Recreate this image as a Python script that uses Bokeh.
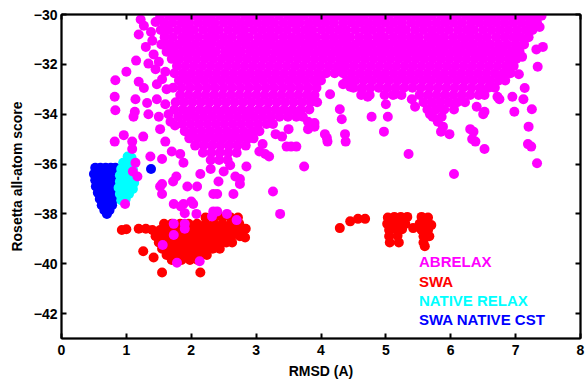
from bokeh.plotting import figure
from bokeh.models import Range1d, LinearAxis, FixedTicker, Label
from bokeh.embed import file_html
from bokeh.resources import INLINE

# ---------------- data ----------------
x_ticks = [0, 1, 2, 3, 4, 5, 6, 7, 8]
x_tick_labels = ["0", "1", "2", "3", "4", "5", "6", "7", "8"]
y_ticks = [-42, -40, -38, -36, -34, -32, -30]
y_tick_labels = ["\u221242", "\u221240", "\u221238", "\u221236", "\u221234", "\u221232", "\u221230"]

series_names = ["ABRELAX", "SWA", "NATIVE RELAX", "SWA NATIVE CST"]
series_colors = ["#FF00FF", "#FF0000", "#00FFFF", "#0000FF"]

# ABRELAX: dense band, one row of points per score level
abrelax_row_y = [-30.05, -30.33, -30.62, -30.91, -31.2, -31.49, -31.78, -32.07, -32.36, -32.65,
                 -32.94, -33.23, -33.52, -33.81, -34.1, -34.39, -34.68, -34.97, -35.26, -35.55, -35.84]
abrelax_row_x = [
    [1.52, 1.66, 1.78, 1.91, 2.05, 2.17, 2.30, 2.44, 2.57, 2.69, 2.83, 2.96, 3.09, 3.21, 3.35, 3.49, 3.61, 3.74, 3.88, 4.01, 4.13, 4.27, 4.41, 4.53, 4.66, 4.80, 4.93, 5.05, 5.19, 5.32, 5.46, 5.58, 5.71, 5.85, 5.98, 6.10, 6.24, 6.38, 6.50, 6.63, 6.77, 6.90, 7.02, 7.15, 7.28, 7.40],
    [1.58, 1.71, 1.85, 1.97, 2.11, 2.24, 2.36, 2.50, 2.63, 2.76, 2.89, 3.02, 3.15, 3.28, 3.42, 3.55, 3.67, 3.81, 3.94, 4.07, 4.20, 4.34, 4.47, 4.60, 4.73, 4.86, 4.99, 5.12, 5.25, 5.39, 5.52, 5.64, 5.78, 5.91, 6.04, 6.17, 6.31, 6.44, 6.57, 6.70, 6.83, 6.96, 7.09, 7.22, 7.33],
    [1.53, 1.65, 1.79, 1.92, 2.04, 2.18, 2.31, 2.43, 2.57, 2.70, 2.82, 2.96, 3.09, 3.22, 3.35, 3.48, 3.62, 3.75, 3.87, 4.01, 4.14, 4.27, 4.39, 4.53, 4.67, 4.79, 4.92, 5.06, 5.19, 5.31, 5.45, 5.58, 5.71, 5.84, 5.97, 6.11, 6.24, 6.36, 6.50, 6.63, 6.76, 6.89, 7.02, 7.15, 7.26],
    [1.59, 1.72, 1.86, 1.98, 2.11, 2.25, 2.37, 2.50, 2.63, 2.77, 2.89, 3.03, 3.16, 3.28, 3.42, 3.55, 3.68, 3.81, 3.93, 4.07, 4.20, 4.33, 4.45, 4.59, 4.72, 4.86, 4.98, 5.12, 5.25, 5.38, 5.51, 5.65, 5.77, 5.90, 6.04, 6.17, 6.30, 6.43, 6.56, 6.70, 6.83, 6.96, 7.08, 7.20],
    [1.54, 1.67, 1.80, 1.93, 2.06, 2.19, 2.31, 2.45, 2.58, 2.71, 2.84, 2.97, 3.10, 3.23, 3.36, 3.49, 3.62, 3.75, 3.88, 4.01, 4.14, 4.27, 4.40, 4.53, 4.66, 4.79, 4.92, 5.05, 5.18, 5.31, 5.44, 5.57, 5.70, 5.83, 5.96, 6.09, 6.22, 6.35, 6.48, 6.61, 6.74, 6.87, 7.00, 7.13],
    [1.62, 1.74, 1.87, 2.00, 2.13, 2.26, 2.38, 2.52, 2.65, 2.77, 2.91, 3.04, 3.16, 3.30, 3.43, 3.56, 3.69, 3.82, 3.95, 4.08, 4.21, 4.34, 4.47, 4.60, 4.73, 4.86, 4.99, 5.12, 5.25, 5.38, 5.51, 5.64, 5.77, 5.90, 6.03, 6.16, 6.29, 6.42, 6.55, 6.68, 6.81, 6.94, 7.06],
    [1.70, 1.82, 1.95, 2.08, 2.21, 2.34, 2.47, 2.60, 2.73, 2.86, 2.99, 3.12, 3.25, 3.38, 3.51, 3.64, 3.77, 3.90, 4.03, 4.16, 4.29, 4.42, 4.55, 4.68, 4.81, 4.94, 5.07, 5.20, 5.33, 5.46, 5.59, 5.72, 5.85, 5.98, 6.11, 6.24, 6.37, 6.50, 6.63, 6.76, 6.89, 7.01],
    [1.78, 1.91, 2.04, 2.17, 2.30, 2.43, 2.56, 2.69, 2.82, 2.95, 3.08, 3.21, 3.34, 3.47, 3.60, 3.73, 3.86, 3.99, 4.12, 4.25, 4.38, 4.51, 4.64, 4.77, 4.90, 5.03, 5.16, 5.29, 5.42, 5.55, 5.68, 5.81, 5.94, 6.07, 6.20, 6.33, 6.46, 6.59, 6.72, 6.85, 6.97],
    [1.74, 1.87, 2.00, 2.13, 2.26, 2.39, 2.52, 2.65, 2.78, 2.91, 3.04, 3.17, 3.30, 3.43, 3.56, 3.69, 3.82, 3.95, 4.08, 4.21, 4.34, 4.47, 4.60, 4.73, 4.86, 4.99, 5.12, 5.25, 5.38, 5.51, 5.64, 5.77, 5.90, 6.03, 6.16, 6.29, 6.42, 6.55, 6.68, 6.81, 6.92],
    [1.81, 1.94, 2.07, 2.20, 2.33, 2.46, 2.59, 2.72, 2.85, 2.98, 3.11, 3.24, 3.37, 3.50, 3.63, 3.76, 3.89, 4.00, 4.40, 4.53, 4.66, 4.79, 4.92, 5.05, 5.18, 5.31, 5.44, 5.57, 5.70, 5.83, 5.96, 6.09, 6.22, 6.35, 6.48, 6.61, 6.74, 6.84],
    [1.72, 1.85, 1.98, 2.11, 2.24, 2.37, 2.50, 2.63, 2.76, 2.89, 3.02, 3.15, 3.28, 3.41, 3.54, 3.67, 3.80, 3.93, 4.50, 4.63, 4.76, 4.89, 5.02, 5.15, 5.28, 5.41, 5.54, 5.67, 5.80, 5.93, 6.06, 6.19, 6.32, 6.45, 6.58, 6.68],
    [1.83, 1.96, 2.09, 2.22, 2.35, 2.48, 2.61, 2.74, 2.87, 3.00, 3.13, 3.26, 3.39, 3.52, 3.65, 3.78, 3.90, 4.62, 4.75, 4.98, 5.11, 5.24, 5.52, 5.65, 5.78, 5.91, 6.04, 6.17, 6.30, 6.43, 6.52],
    [1.76, 1.89, 2.02, 2.15, 2.28, 2.41, 2.54, 2.67, 2.80, 2.93, 3.06, 3.19, 3.32, 3.45, 3.58, 3.71, 3.84, 3.94, 5.58, 5.71, 5.84, 5.97, 6.10, 6.22],
    [1.74, 1.87, 2.00, 2.13, 2.26, 2.39, 2.52, 2.65, 2.78, 2.91, 3.04, 3.17, 3.30, 3.43, 3.56, 3.69, 3.82, 5.64, 5.77, 5.90, 6.05],
    [1.80, 1.93, 2.06, 2.19, 2.32, 2.45, 2.58, 2.71, 2.84, 2.97, 3.10, 3.23, 3.36, 3.49, 3.62, 3.72, 5.72, 5.86],
    [1.86, 1.99, 2.12, 2.25, 2.38, 2.51, 2.64, 2.77, 2.90, 3.03, 3.16, 3.26],
    [1.90, 2.03, 2.16, 2.29, 2.42, 2.55, 2.68, 2.81, 2.94, 3.05],
    [1.97, 2.10, 2.23, 2.36, 2.49, 2.62, 2.75, 2.88, 2.96],
    [2.06, 2.19, 2.32, 2.45, 2.58, 2.71, 2.84],
    [2.18, 2.31, 2.44, 2.57, 2.70],
    [2.30, 2.43, 2.56],
]
# ABRELAX: scattered decoys
abrelax_scatter_x = [1.22, 1.27, 1.19, 1.30, 1.40, 1.15, 1.34, 1.00, 0.83, 1.19, 1.27, 1.47, 0.82, 1.14, 1.47, 1.32,
                     0.83, 1.13, 1.11, 1.34, 1.50, 1.52, 0.96, 1.26, 0.82, 1.09, 1.09, 1.60, 1.75, 1.37, 1.55, 1.70,
                     1.14, 1.10, 1.17, 1.72, 1.55, 1.52, 1.55, 1.77, 0.98, 1.73, 1.84, 2.00, 2.08, 1.90, 1.83, 1.88,
                     1.94, 2.09, 2.14, 2.03, 1.88, 2.34, 2.40, 2.42, 2.34, 2.40, 2.55, 2.65, 2.68, 2.75, 2.75, 2.30,
                     2.50, 2.85, 2.60, 3.26, 3.37, 3.14, 3.20, 3.54, 3.62, 3.74, 3.47, 3.66, 3.80, 3.90, 3.80, 3.90,
                     3.10, 3.30, 3.50, 3.40, 3.05, 4.06, 4.09, 4.10, 4.37, 4.38, 4.32, 4.29, 4.14, 4.34, 4.45, 4.63,
                     4.72, 4.78, 5.03, 4.97, 5.00, 5.14, 5.40, 5.45, 5.35, 5.68, 5.80, 5.85, 5.88, 5.98, 6.05, 6.30,
                     6.35, 6.33, 6.38, 6.52, 6.50, 6.40, 6.52, 6.60, 6.72, 6.75, 6.95, 6.98, 7.12, 7.14, 7.25, 7.34,
                     7.42, 7.32, 7.37, 7.20, 7.19, 7.24, 7.33, 7.05, 7.10, 4.34, 4.31, 4.50,
                     1.45, 1.38, 1.42, 1.50, 1.60, 1.55, 1.62, 1.60, 1.65, 1.68, 1.45,
                     1.73, 1.90, 1.73, 1.56, 1.78, 2.13, 2.32, 2.70, 1.90]
abrelax_scatter_y = [-30.2, -30.45, -30.8, -31.3, -31.05, -31.85, -31.97, -32.3, -32.64, -32.7, -32.95, -32.8, -33.3, -33.4, -33.4, -33.55,
                     -33.84, -33.9, -34.1, -34.0, -34.1, -34.6, -34.84, -34.9, -35.1, -35.1, -35.4, -35.1, -34.45, -35.7, -35.8, -35.5,
                     -35.95, -36.3, -36.5, -36.7, -36.8, -36.9, -37.2, -36.5, -37.6, -37.6, -37.7, -37.5, -38.0, -37.97, -35.6, -35.95,
                     -36.9, -36.9, -36.4, -37.6, -37.6, -37.2, -37.2, -36.7, -37.9, -37.9, -38.0, -37.2, -36.5, -36.6, -36.8, -36.2,
                     -36.3, -36.1, -36.05, -37.1, -38.0, -35.6, -35.7, -35.3, -35.3, -36.1, -35.3, -34.0, -34.3, -34.35, -34.6, -34.5,
                     -35.2, -34.8, -34.6, -34.9, -35.5, -34.8, -34.95, -35.1, -34.8, -35.1, -34.2, -33.8, -33.2, -32.8, -32.9, -33.0,
                     -33.3, -34.1, -34.1, -34.7, -33.6, -33.2, -33.4, -33.7, -35.6, -34.0, -34.3, -34.7, -34.5, -34.8, -36.4, -34.6,
                     -34.7, -35.0, -35.1, -35.4, -34.0, -33.7, -33.9, -32.9, -33.3, -33.4, -33.3, -33.9, -33.4, -32.95, -33.8, -32.1,
                     -31.3, -31.4, -30.5, -34.5, -35.2, -35.3, -35.97, -32.4, -31.7, -32.2, -31.8, -31.7,
                     -30.3, -30.7, -31.6, -31.9, -32.3, -32.6, -33.0, -33.6, -34.0, -34.3, -32.2,
                     -38.4, -38.4, -38.85, -39.25, -39.96, -39.9, -38.1, -38.25, -38.6]

# SWA: main cluster (rows) plus outliers
swa_row_y = [-38.15, -38.4, -38.65, -38.9, -39.15, -39.4, -39.65, -39.85]
swa_row_x = [
    [2.22, 2.35, 2.48, 2.61, 2.72],
    [1.58, 1.70, 1.83, 1.96, 2.09, 2.22, 2.35, 2.48, 2.61, 2.74],
    [1.40, 1.52, 1.65, 1.78, 1.91, 2.04, 2.17, 2.30, 2.43, 2.56, 2.69, 2.80],
    [1.45, 1.58, 1.71, 1.84, 1.97, 2.10, 2.23, 2.36, 2.49, 2.62, 2.75],
    [1.50, 1.63, 1.76, 1.89, 2.02, 2.15, 2.28, 2.41, 2.54, 2.63],
    [1.55, 1.68, 1.81, 1.94, 2.07, 2.20, 2.33, 2.44],
    [1.62, 1.75, 1.88, 2.01, 2.14, 2.24],
    [1.70, 1.85, 1.98, 2.10],
]
swa_scatter_x = [0.93, 1.00, 1.19, 1.30, 1.26, 1.42, 1.55, 2.14, 2.84, 2.83, 4.29, 4.45, 4.57, 4.68,
                 5.03, 5.13, 5.23, 5.33, 5.02, 5.12, 5.22, 5.30, 5.05, 5.15, 5.25, 5.05, 5.18, 5.06, 5.20, 5.42,
                 5.55, 5.65, 5.52, 5.62, 5.70, 5.55, 5.65, 5.58, 5.67, 5.58, 5.60]
swa_scatter_y = [-38.65, -38.62, -38.6, -38.6, -39.5, -39.75, -40.35, -40.35, -38.6, -38.95, -38.57, -38.3, -38.2, -38.2,
                 -38.15, -38.12, -38.12, -38.12, -38.4, -38.38, -38.35, -38.4, -38.65, -38.6, -38.62, -38.9, -38.88, -39.15, -39.15, -38.57,
                 -38.12, -38.15, -38.4, -38.38, -38.45, -38.65, -38.65, -38.9, -38.9, -39.15, -39.3]

native_relax_x = [1.02, 1.08, 0.95, 1.05, 1.12, 0.92, 1.00, 1.10, 0.90, 0.98, 1.06, 1.12, 0.90, 0.98, 1.06, 1.12,
                  0.88, 0.96, 1.04, 1.10, 0.90, 0.97, 1.04, 0.92, 0.99]
native_relax_y = [-35.7, -35.75, -35.95, -35.9, -35.95, -36.2, -36.15, -36.2, -36.45, -36.4, -36.45, -36.5, -36.7, -36.7, -36.7, -36.75,
                  -36.95, -36.95, -36.95, -37.0, -37.2, -37.2, -37.2, -37.45, -37.4]

swa_native_cst_x = [0.52, 0.60, 0.68, 0.76, 0.83, 0.50, 0.58, 0.66, 0.74, 0.82, 0.87, 0.52, 0.60, 0.68, 0.76, 0.84,
                    0.53, 0.61, 0.69, 0.77, 0.85, 0.56, 0.64, 0.72, 0.80, 0.59, 0.67, 0.75, 0.82, 0.62, 0.70, 0.78,
                    0.66, 0.74, 0.70, 1.38]
swa_native_cst_y = [-36.15, -36.15, -36.15, -36.15, -36.15, -36.4, -36.4, -36.4, -36.4, -36.4, -36.45, -36.65, -36.65, -36.65, -36.65, -36.65,
                    -36.9, -36.9, -36.9, -36.9, -36.9, -37.15, -37.15, -37.15, -37.15, -37.4, -37.4, -37.4, -37.4, -37.65, -37.65, -37.65,
                    -37.85, -37.85, -38.0, -36.2]

# ---------------- assemble ----------------
abrelax_x, abrelax_y = [], []
for yv, xs in zip(abrelax_row_y, abrelax_row_x):
    abrelax_x += xs
    abrelax_y += [yv] * len(xs)
abrelax_x += abrelax_scatter_x
abrelax_y += abrelax_scatter_y

swa_x, swa_y = [], []
for yv, xs in zip(swa_row_y, swa_row_x):
    swa_x += xs
    swa_y += [yv] * len(xs)
swa_x += swa_scatter_x
swa_y += swa_scatter_y

FONT = "Liberation Sans"

p = figure(width=585, height=381, output_backend="svg", toolbar_location=None,
           x_range=Range1d(0, 8), y_range=Range1d(-43, -30),
           min_border_left=61, min_border_right=5, min_border_top=14, min_border_bottom=42)
p.background_fill_color = "white"
p.border_fill_color = "white"
p.xgrid.grid_line_color = None
p.ygrid.grid_line_color = None
p.outline_line_color = "black"
p.outline_line_width = 1.5

top_axis = LinearAxis()
right_axis = LinearAxis()
p.add_layout(top_axis, "above")
p.add_layout(right_axis, "right")

for ax in p.xaxis:
    ax.ticker = FixedTicker(ticks=x_ticks)
for ax in p.yaxis:
    ax.ticker = FixedTicker(ticks=y_ticks)

for ax in list(p.xaxis) + list(p.yaxis):
    ax.major_tick_in = 5
    ax.major_tick_out = 0
    ax.major_tick_line_width = 2
    ax.minor_tick_line_color = None
    ax.axis_line_width = 2
    ax.axis_line_color = "black"
    ax.major_tick_line_color = "black"
    ax.major_label_text_font = FONT
    ax.major_label_text_font_style = "bold"
    ax.major_label_text_font_size = "14px"
    ax.major_label_text_color = "black"

p.below[0].major_label_overrides = dict(zip(x_ticks, x_tick_labels))
p.left[0].major_label_overrides = dict(zip(y_ticks, y_tick_labels))
p.below[0].major_label_standoff = 6
p.left[0].major_label_standoff = 4

for ax in (top_axis, right_axis):
    ax.major_label_overrides = {t: "" for t in (x_ticks if ax is top_axis else y_ticks)}
    ax.major_label_text_font_size = "0px"
    ax.major_label_standoff = 0

p.below[0].axis_label = "RMSD (A)"
p.left[0].axis_label = "Rosetta all-atom score"
for ax in (p.below[0], p.left[0]):
    ax.axis_label_text_font = FONT
    ax.axis_label_text_font_style = "bold"
    ax.axis_label_text_font_size = "14px"
    ax.axis_label_text_color = "black"
p.below[0].axis_label_standoff = 5
p.left[0].axis_label_standoff = 6

SIZE = 10
p.scatter(swa_native_cst_x, swa_native_cst_y, size=SIZE, fill_color=series_colors[3], line_color=None)
p.scatter(native_relax_x, native_relax_y, size=SIZE, fill_color=series_colors[2], line_color=None)
p.scatter(swa_x, swa_y, size=SIZE, fill_color=series_colors[1], line_color=None)
p.scatter(abrelax_x, abrelax_y, size=SIZE, fill_color=series_colors[0], line_color=None)

legend_y = [-39.92, -40.72, -41.48, -42.24]
for name, col, yy in zip(series_names, series_colors, legend_y):
    p.add_layout(Label(x=5.51, y=yy, text=name, text_color=col, text_font=FONT,
                       text_font_style="bold", text_font_size="15px", text_baseline="middle"))

open("out.html", "w").write(file_html(p, INLINE))
